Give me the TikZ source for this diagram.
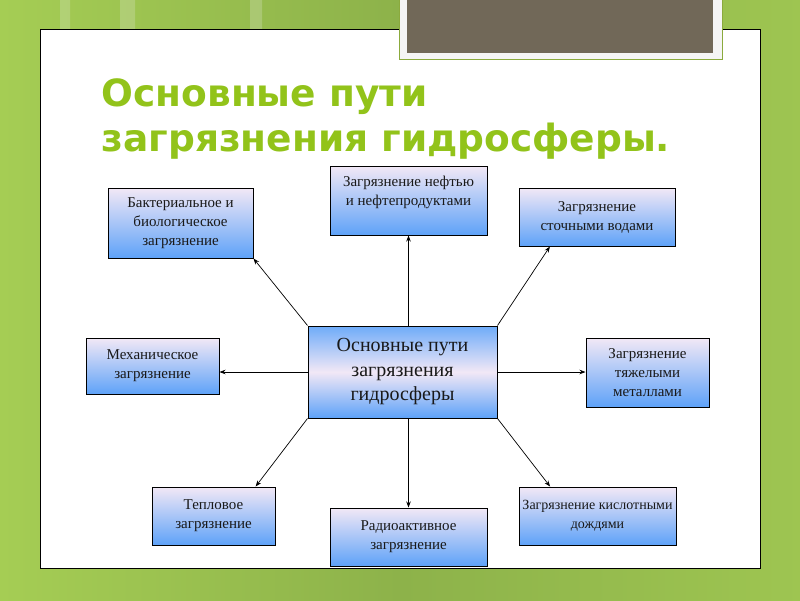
\documentclass[tikz,border=0pt]{standalone}
\usepackage{fontspec}
\setmainfont{Liberation Serif}
\newfontfamily\titlefont{DejaVu Sans}
\usetikzlibrary{arrows.meta,calc,shadows}
\definecolor{slidegreen}{RGB}{141,178,74}
\definecolor{slidelight}{RGB}{165,205,84}
\definecolor{titlegreen}{RGB}{146,195,26}
\definecolor{framegreen}{RGB}{139,170,61}
\definecolor{photobrown}{RGB}{113,104,88}
\definecolor{boxtop}{RGB}{242,232,246}
\definecolor{boxbottom}{RGB}{94,162,248}
\tikzset{
  ptbox/.style={draw=black,line width=1pt,rectangle,top color=boxtop,bottom color=boxbottom,
    general shadow={fill=black,shadow xshift=1.2pt,shadow yshift=-1.2pt},
    inner sep=2pt,align=center,text=black!90,font=\fontsize{15}{19}\selectfont},
  hubbox/.style={ptbox,top color=boxbottom!90!white,bottom color=boxbottom,middle color=boxtop,
    font=\fontsize{20}{24.5}\selectfont},
  ptarrow/.style={-{Stealth[length=6pt,width=4.5pt]},line width=0.7pt,black}
}
\begin{document}
\begin{tikzpicture}[x=1pt,y=-1pt]
\useasboundingbox (0,0) rectangle (800,600);
\shade[left color=slidelight,right color=slidegreen] (0,0) rectangle (400,600);
\shade[left color=slidegreen,right color=slidelight!70!slidegreen] (400,0) rectangle (800,600);
\fill[white!60!slidegreen,opacity=0.35] (60,0) rectangle (70,29) (120,0) rectangle (135,29) (250,0) rectangle (262,29);
\draw[fill=white,line width=1pt] (40,29) rectangle (760,568);
\draw[framegreen,fill=white!96!black,line width=0.8pt] (399,-5) rectangle (722,59);
\fill[photobrown] (407,-5) rectangle (713,53);
\node[anchor=base west,text=titlegreen,font=\titlefont\bfseries\fontsize{37.5}{45}\selectfont]
  (title1) at (98,106) {Основные пути};
\node[anchor=base west,text=titlegreen,font=\titlefont\bfseries\fontsize{37.5}{45}\selectfont]
  (title2) at (98,151) {загрязнения гидросферы.};

\node[hubbox,minimum width=189pt,minimum height=92pt] (hub) at (402.5,372) {Основные пути\\загрязнения\\гидросферы};
\node[ptbox,minimum width=145pt,minimum height=70pt] (bact) at (180.5,223) {Бактериальное и\\биологическое\\загрязнение};
\node[ptbox,minimum width=157pt,minimum height=69pt] (oil) at (408.5,200.5) {Загрязнение нефтью\\и нефтепродуктами\\\mbox{}};
\node[ptbox,minimum width=156pt,minimum height=58pt] (sewage) at (597,217) {Загрязнение\\сточными водами};
\node[ptbox,minimum width=133pt,minimum height=56pt] (mech) at (152.5,366) {Механическое\\загрязнение};
\node[ptbox,minimum width=123pt,minimum height=69pt] (metals) at (647.5,372.5) {Загрязнение\\тяжелыми\\металлами};
\node[ptbox,minimum width=123pt,minimum height=58pt] (thermal) at (213.5,516) {Тепловое\\загрязнение};
\node[ptbox,minimum width=157pt,minimum height=58pt] (radio) at (408.5,537) {Радиоактивное\\загрязнение};
\node[ptbox,minimum width=157pt,minimum height=58pt,font=\fontsize{14}{19}\selectfont] (acid) at (597.5,516) {Загрязнение кислотными\\дождями};

\draw[ptarrow] (hub.north west) -- (bact.south east);
\draw[ptarrow] (hub.north -| oil.south) -- (oil.south);
\draw[ptarrow] (hub.north east) -- ($(sewage.south west)!0.2!(sewage.south east)$);
\draw[ptarrow] (hub.west) -- (hub.west -| mech.east);
\draw[ptarrow] (hub.east) -- (hub.east -| metals.west);
\draw[ptarrow] (hub.south west) -- ($(thermal.north west)!0.84!(thermal.north east)$);
\draw[ptarrow] (hub.south -| radio.north) -- (radio.north);
\draw[ptarrow] (hub.south east) -- ($(acid.north west)!0.2!(acid.north east)$);
\end{tikzpicture}
\end{document}
